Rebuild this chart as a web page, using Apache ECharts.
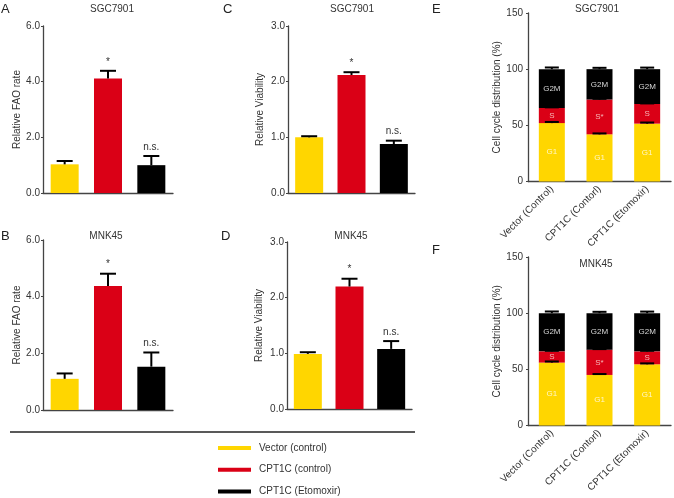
<!DOCTYPE html>
<html><head><meta charset="utf-8">
<script src="https://cdn.jsdelivr.net/npm/echarts@6/dist/echarts.min.js"></script>
<style>html,body{margin:0;padding:0;background:#fff}#c{width:674px;height:498px}</style>
</head><body><div id="c"></div>
<script>
// ---------- data ----------
const groups = ['Vector (control)', 'CPT1C (control)', 'CPT1C (Etomoxir)'];
const groupColors = ['#FFD600', '#DA0016', '#000000'];
const sigMarks = ['', '*', 'n.s.'];

const faoSGC = [1.03, 4.11, 1.00];
const faoSGCErr = [0.12, 0.28, 0.33];
const faoMNK = [1.10, 4.38, 1.53];
const faoMNKErr = [0.19, 0.43, 0.50];
const viaSGC = [1.00, 2.12, 0.88];
const viaSGCErr = [0.02, 0.05, 0.06];
const viaMNK = [0.99, 2.20, 1.08];
const viaMNKErr = [0.03, 0.14, 0.14];

const cycleCats = ['Vector (Control)', 'CPT1C (Contorl)', 'CPT1C (Etomoxir)'];
const phases = ['G1', 'S', 'G2M'];
const phaseColors = ['#FFD600', '#DA0016', '#000000'];
const phaseLabelColors = ['#fff6c8', '#f6b8b8', '#d8d8d8'];
const sLabels = ['S', 'S*', 'S'];

const sgcG1 = [52.0, 42.0, 51.5];
const sgcS = [13.5, 31.0, 17.5];
const sgcG2M = [34.5, 27.0, 31.0];
const sgcG1Err = [1.0, 0.8, 1.0];
const sgcSErr = [0.5, 0.6, 0.5];
const sgcG2MErr = [1.5, 1.2, 1.4];

const mnkG1 = [56.0, 45.0, 54.5];
const mnkS = [10.0, 22.5, 11.5];
const mnkG2M = [34.0, 32.5, 34.0];
const mnkG1Err = [1.0, 0.8, 0.8];
const mnkSErr = [0.5, 0.5, 0.5];
const mnkG2MErr = [1.5, 1.2, 1.4];

const faoTicks = {min: 0, max: 6, interval: 2};
const viaTicks = {min: 0, max: 3, interval: 1};
const cycTicks = {min: 0, max: 150, interval: 50};

// ---------- layout ----------
const FONT = 'Liberation Sans, Arial, sans-serif';
const txt = '#333';
const axisCol = '#444';
const panels = [
  {key: 'A', title: 'SGC7901', vals: faoSGC, errs: faoSGCErr, ticks: faoTicks, name: 'Relative FAO rate',
   grid: {left: 43, top: 26, width: 130, height: 167}, titleX: 112, titleY: 4, letterX: 1, letterY: 3, gap: 21},
  {key: 'B', title: 'MNK45', vals: faoMNK, errs: faoMNKErr, ticks: faoTicks, name: 'Relative FAO rate',
   grid: {left: 43, top: 240, width: 130, height: 170}, titleX: 106, titleY: 231, letterX: 1, letterY: 230, gap: 21},
  {key: 'C', title: 'SGC7901', vals: viaSGC, errs: viaSGCErr, ticks: viaTicks, name: 'Relative Viability',
   grid: {left: 288, top: 26, width: 127, height: 167}, titleX: 352, titleY: 4, letterX: 223, letterY: 3, gap: 23},
  {key: 'D', title: 'MNK45', vals: viaMNK, errs: viaMNKErr, ticks: viaTicks, name: 'Relative Viability',
   grid: {left: 287, top: 242, width: 125, height: 167}, titleX: 351, titleY: 231, letterX: 221, letterY: 230, gap: 23}
];
const cyclePanels = [
  {key: 'E', title: 'SGC7901', g1: sgcG1, s: sgcS, g2m: sgcG2M, errs: [sgcG1Err, sgcSErr, sgcG2MErr],
   grid: {left: 528, top: 13, width: 143, height: 168.5}, titleX: 597, titleY: 4, letterX: 432, letterY: 3},
  {key: 'F', title: 'MNK45', g1: mnkG1, s: mnkS, g2m: mnkG2M, errs: [mnkG1Err, mnkSErr, mnkG2MErr],
   grid: {left: 528, top: 257, width: 143, height: 168.5}, titleX: 596, titleY: 259, letterX: 432, letterY: 244}
];

const grids = [], xAxes = [], yAxes = [], series = [], titles = [];

function errRender(sigs, hw) {
  return function (params, api) {
    const i = api.value(0), v = api.value(1), e = api.value(2);
    const base = api.coord([i, v]);
    const top = api.coord([i, v + e]);
    const children = [
      {type: 'line', shape: {x1: top[0], y1: base[1], x2: top[0], y2: top[1]}, style: {stroke: '#000', lineWidth: 2}},
      {type: 'line', shape: {x1: top[0] - hw, y1: top[1], x2: top[0] + hw, y2: top[1]}, style: {stroke: '#000', lineWidth: 2}}
    ];
    const s = sigs ? sigs[params.dataIndex] : '';
    if (s) {
      children.push({type: 'text', x: top[0], y: top[1] - 4,
        style: {text: s, fill: txt, font: '10px ' + FONT, textAlign: 'center', textVerticalAlign: 'bottom'}});
    }
    return {type: 'group', children};
  };
}

function addTitle(p) {
  titles.push({text: p.key, left: p.letterX, top: p.letterY, padding: 0,
    textStyle: {fontSize: 13, fontWeight: 'normal', color: '#222', fontFamily: FONT}});
  titles.push({text: p.title, left: p.titleX, top: p.titleY, textAlign: 'center', padding: 0,
    textStyle: {fontSize: 10, fontWeight: 'normal', color: txt, fontFamily: FONT}});
}

panels.forEach((p, gi) => {
  grids.push(p.grid);
  xAxes.push({type: 'category', gridIndex: gi, data: groups,
    axisLine: {lineStyle: {color: axisCol, width: 1.3}},
    axisTick: {alignWithLabel: true, length: 3, lineStyle: {color: axisCol}},
    axisLabel: {show: false}});
  yAxes.push({type: 'value', gridIndex: gi, min: p.ticks.min, max: p.ticks.max, interval: p.ticks.interval,
    name: p.name, nameLocation: 'middle', nameGap: p.gap,
    nameTextStyle: {fontSize: 10, color: txt, fontFamily: FONT},
    splitLine: {show: false},
    axisLine: {show: true, lineStyle: {color: axisCol, width: 1.3}},
    axisTick: {show: true, length: 2, lineStyle: {color: axisCol}},
    axisLabel: {fontSize: 10, color: txt, fontFamily: FONT, margin: 3, formatter: v => v.toFixed(1)}});
  groups.forEach((g, k) => {
    series.push({type: 'bar', name: g, xAxisIndex: gi, yAxisIndex: gi, barWidth: 28, barGap: '-100%',
      itemStyle: {color: groupColors[k]},
      data: p.vals.map((v, j) => j === k ? v : '-')});
  });
  series.push({type: 'custom', xAxisIndex: gi, yAxisIndex: gi, z: 5,
    renderItem: errRender(sigMarks, 8),
    data: p.vals.map((v, j) => [j, v, p.errs[j]])});
  addTitle(p);
});

cyclePanels.forEach((p, ci) => {
  const gi = panels.length + ci;
  grids.push(p.grid);
  xAxes.push({type: 'category', gridIndex: gi, data: cycleCats,
    axisLine: {lineStyle: {color: axisCol, width: 1.3}},
    axisTick: {alignWithLabel: true, length: 3, lineStyle: {color: axisCol}},
    axisLabel: {rotate: 45, fontSize: 10, color: txt, fontFamily: FONT, margin: 6}});
  yAxes.push({type: 'value', gridIndex: gi, min: cycTicks.min, max: cycTicks.max, interval: cycTicks.interval,
    name: 'Cell cycle distribution (%)', nameLocation: 'middle', nameGap: 22,
    nameTextStyle: {fontSize: 10, color: txt, fontFamily: FONT},
    splitLine: {show: false},
    axisLine: {show: true, lineStyle: {color: axisCol, width: 1.3}},
    axisTick: {show: true, length: 2, lineStyle: {color: axisCol}},
    axisLabel: {fontSize: 10, color: txt, fontFamily: FONT, margin: 5}});
  const stacks = [p.g1, p.s, p.g2m];
  stacks.forEach((vals, k) => {
    series.push({type: 'bar', name: phases[k], xAxisIndex: gi, yAxisIndex: gi, stack: 'cyc' + ci, barWidth: 26,
      itemStyle: {color: phaseColors[k]},
      label: {show: true, position: 'inside', fontSize: 8, fontFamily: FONT, color: phaseLabelColors[k],
        formatter: prm => k === 1 ? sLabels[prm.dataIndex] : phases[k]},
      data: vals});
  });
  // error caps at the cumulative top of each phase
  const errData = [];
  for (let j = 0; j < 3; j++) {
    let cum = 0;
    stacks.forEach((vals, k) => {
      cum += vals[j];
      errData.push([j, cum, p.errs[k][j]]);
    });
  }
  series.push({type: 'custom', xAxisIndex: gi, yAxisIndex: gi, z: 5,
    renderItem: errRender(null, 7), data: errData});
  addTitle(p);
});

const chart = echarts.init(document.getElementById('c'), null, {renderer: 'canvas'});
chart.setOption({
  animation: false,
  backgroundColor: '#fff',
  title: titles,
  grid: grids,
  xAxis: xAxes,
  yAxis: yAxes,
  series: series,
  legend: {data: groups, orient: 'vertical', left: 218, top: 442, height: 60, padding: 0, icon: 'rect',
    itemWidth: 33, itemHeight: 4, itemGap: 9.7,
    textStyle: {fontSize: 10, color: txt, fontFamily: FONT, lineHeight: 12, padding: [0, 0, 0, 3]}},
  graphic: [{type: 'line', shape: {x1: 10, y1: 432, x2: 415, y2: 432}, style: {stroke: '#222', lineWidth: 1.3}}]
});
</script></body></html>
